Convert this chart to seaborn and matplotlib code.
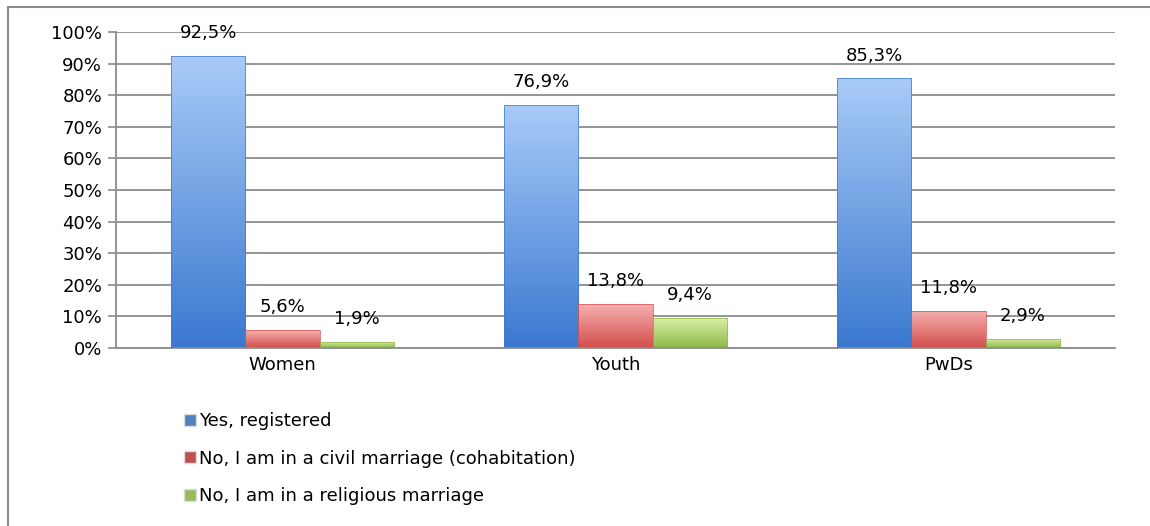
import numpy as np
import pandas as pd
import matplotlib
matplotlib.use("Agg")
import matplotlib.pyplot as plt
from matplotlib.patches import Patch
from matplotlib.lines import Line2D
from matplotlib.colors import LinearSegmentedColormap
import seaborn as sns

groups = ["Women", "Youth", "PwDs"]
answers = ["Yes, registered",
           "No, I am in a civil marriage (cohabitation)",
           "No, I am in a religious marriage"]
yes_registered = [92.5, 76.9, 85.3]
civil_marriage = [5.6, 13.8, 11.8]
religious_marriage = [1.9, 9.4, 2.9]

df = pd.DataFrame({
    "group": groups * 3,
    "answer": [answers[0]] * 3 + [answers[1]] * 3 + [answers[2]] * 3,
    "value": yes_registered + civil_marriage + religious_marriage,
})

# top / bottom gradient colours per series
grad = {
    answers[0]: ("#a9cbf7", "#3a78d0"),
    answers[1]: ("#f6b1b0", "#d24e4b"),
    answers[2]: ("#dcefa8", "#8cb848"),
}
solid = {answers[0]: "#4f81bd", answers[1]: "#c0504d", answers[2]: "#9bbb59"}

sns.set_style("white")
plt.rcParams["font.family"] = ["DejaVu Sans"]
plt.rcParams["text.color"] = "black"
plt.rcParams["xtick.color"] = "black"
plt.rcParams["ytick.color"] = "black"
FS = 13

fig = plt.figure(figsize=(11.5, 5.26), dpi=100)
ax = fig.add_axes([116 / 1150, 1 - 348 / 526, 999 / 1150, 316 / 526])

sns.barplot(data=df, x="group", y="value", hue="answer", hue_order=answers,
            order=groups, palette=solid, width=0.67, gap=0, ax=ax,
            legend=False, saturation=1, errorbar=None)

ax.set_xlim(-0.5, 2.5)
ax.set_ylim(0, 100)
ax.set_yticks(np.arange(0, 101, 10))
ax.set_yticklabels([f"{v}%" for v in range(0, 101, 10)], fontsize=FS)
ax.set_xticks(range(3))
ax.set_xticklabels(groups, fontsize=FS)
ax.set_xticks([-0.5, 0.5, 1.5, 2.5], minor=True)
ax.tick_params(axis="x", which="major", length=0, pad=6)
ax.tick_params(axis="x", which="minor", length=6, width=1.2, color="#8c8c8c", direction="out")
ax.tick_params(axis="y", length=6, width=1.2, color="#8c8c8c", direction="out", left=True, pad=4)
ax.set_xlabel("")
ax.set_ylabel("")
ax.grid(axis="y", color="#8c8c8c", lw=1.3)
ax.set_axisbelow(True)
for s in ["top", "right"]:
    ax.spines[s].set_visible(False)
for s in ["left", "bottom"]:
    ax.spines[s].set_color("#8c8c8c")
    ax.spines[s].set_linewidth(1.3)

# gradient fill on each bar
bars = [p for p in ax.patches if p.get_height() > 0]
for p in bars:
    x0 = p.get_x()
    w = p.get_width()
    h = p.get_height()
    fc = matplotlib.colors.to_hex(p.get_facecolor())
    key = [k for k, v in solid.items() if v == fc][0]
    cmap = LinearSegmentedColormap.from_list("g", [grad[key][1], grad[key][0]])
    img = ax.imshow(np.linspace(0, 1, 256).reshape(-1, 1), cmap=cmap,
                    extent=[x0, x0 + w, 0, max(h, 0.1)], origin="lower",
                    aspect="auto", zorder=2)
    img.set_clip_path(p)
    p.set_facecolor("none")
    p.set_edgecolor(grad[key][1])
    p.set_linewidth(0.5)
    p.set_zorder(3)
    ax.annotate(f"{h:.1f}%".replace(".", ","), (x0 + w / 2, h),
                xytext=(0, 16.5), textcoords="offset points",
                ha="center", va="center", fontsize=FS)
ax.set_xlim(-0.5, 2.5)
ax.set_ylim(0, 100)
ax.set_aspect("auto")

handles = [Patch(facecolor=solid[a], edgecolor="#dddddd") for a in answers]
fig.legend(handles, answers, loc="upper left",
           bbox_to_anchor=(177 / 1150, 1 - 405 / 526), frameon=False,
           fontsize=FS, handlelength=0.65, handleheight=0.65, handletextpad=0.15,
           labelspacing=1.08, borderaxespad=0)

# outer chart border
fig.add_artist(Line2D([8 / 1150, 1], [1 - 7 / 526, 1 - 7 / 526], color="#8c8c8c", lw=1.5))
fig.add_artist(Line2D([8 / 1150, 8 / 1150], [0, 1 - 7 / 526], color="#8c8c8c", lw=1.5))

fig.savefig("out.png", dpi=100)
